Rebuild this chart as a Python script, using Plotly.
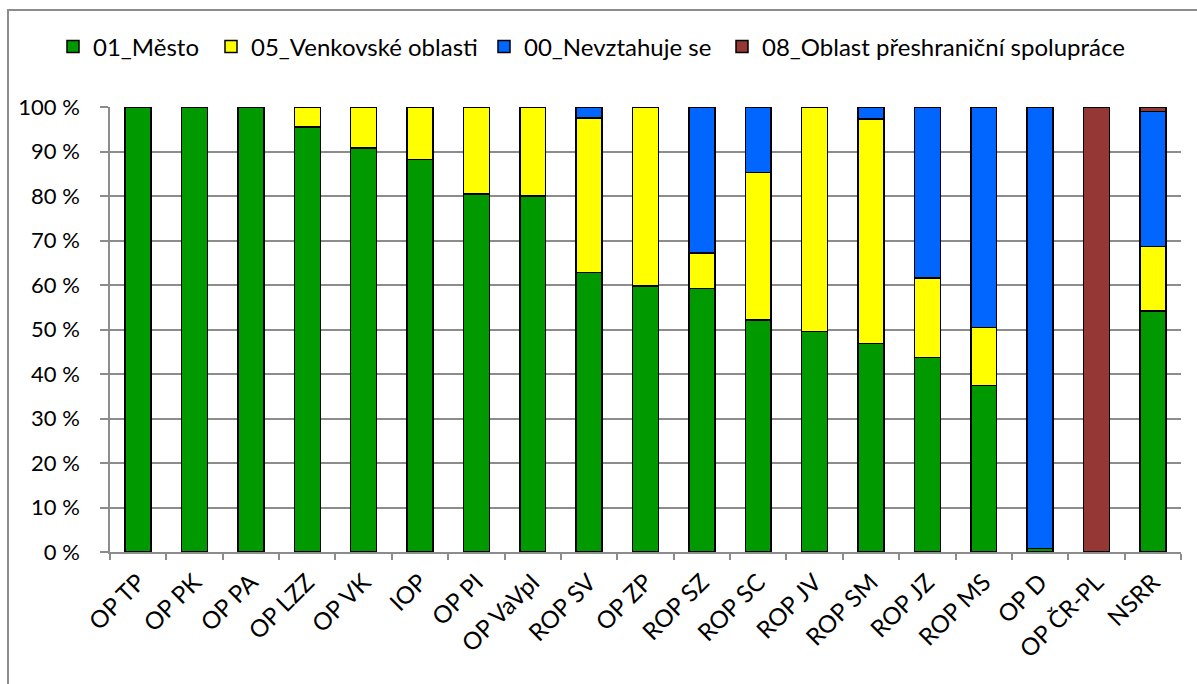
import plotly.graph_objects as go

categories = ["OP TP", "OP PK", "OP PA", "OP LZZ", "OP VK", "IOP", "OP PI", "OP VaVpI",
              "ROP SV", "OP ZP", "ROP SZ", "ROP SC", "ROP JV", "ROP SM", "ROP JZ",
              "ROP MS", "OP D", "OP ČR-PL", "NSRR"]

mesto = [100, 100, 100, 95.5, 90.8, 88.2, 80.4, 80.0, 62.8, 59.8, 59.2, 52.1, 49.6, 46.8, 43.7, 37.4, 0.8, None, 54.2]
venkov = [None, None, None, 4.5, 9.2, 11.8, 19.6, 20.0, 34.7, 40.2, 8.0, 33.2, 50.4, 50.5, 17.9, 13.0, None, None, 14.4]
nevztahuje = [None, None, None, None, None, None, None, None, 2.5, None, 32.8, 14.7, None, 2.7, 38.4, 49.6, 99.2, None, 30.4]
preshranicni = [None] * 17 + [100, 1.0]

series = [
    ("01_Město", mesto, "#009900", "legend"),
    ("05_Venkovské oblasti", venkov, "#FFFF00", "legend2"),
    ("00_Nevztahuje se", nevztahuje, "#0066FF", "legend3"),
    ("08_Oblast přeshraniční spolupráce", preshranicni, "#953735", "legend4"),
]

FONT = "Lato"

fig = go.Figure()
for name, vals, color, lg in series:
    fig.add_trace(go.Bar(
        x=categories, y=vals, name=name, legend=lg, showlegend=True,
        marker=dict(color=color, line=dict(color="#000000", width=1.5)),
    ))

W, H = 1197, 684
L, R, T, B = 110, 16, 107, 132
pw = W - L - R
ph = H - T - B

def px2paper_x(px):
    return (px - L) / pw

def py2paper_y(py):
    return (H - B - py) / ph

leg_common = dict(orientation="h", yanchor="middle", xanchor="left",
                  y=py2paper_y(47), font=dict(family=FONT, size=24, color="#000000"),
                  bgcolor="rgba(0,0,0,0)", borderwidth=0)

fig.update_layout(
    width=W, height=H,
    margin=dict(l=L, r=R, t=T, b=B),
    barmode="stack",
    bargap=0.54,
    showlegend=True,
    plot_bgcolor="#FFFFFF",
    paper_bgcolor="#FFFFFF",
    font=dict(family=FONT, size=22, color="#000000"),
    legend=dict(x=px2paper_x(53), **leg_common),
    legend2=dict(x=px2paper_x(211), **leg_common),
    legend3=dict(x=px2paper_x(484), **leg_common),
    legend4=dict(x=px2paper_x(722), **leg_common),
    xaxis=dict(
        type="category", tickangle=-45,
        showline=True, linecolor="#8c8c8c", linewidth=1.5,
        ticks="outside", ticklen=6, tickcolor="#8c8c8c", tickwidth=1.5,
        tickson="boundaries", showgrid=False,
        ticklabelstandoff=5,
        tickfont=dict(family=FONT, size=24, color="#000000"),
    ),
    yaxis=dict(
        range=[0, 100], dtick=10, ticksuffix=" %",
        showline=True, linecolor="#8c8c8c", linewidth=1.5,
        ticks="outside", ticklen=8, tickcolor="#8c8c8c", tickwidth=1.5,
        showgrid=True, gridcolor="#8c8c8c", gridwidth=1.5,
        zeroline=False,
        ticklabelstandoff=16,
        tickfont=dict(family=FONT, size=22, color="#000000"),
    ),
    shapes=[
        dict(type="rect", xref="paper", yref="paper",
             x0=px2paper_x(8), x1=1.2, y0=-0.6, y1=py2paper_y(10),
             line=dict(color="#8c8c8c", width=2), fillcolor="rgba(0,0,0,0)", layer="below"),
    ],
)

fig.write_html("out.html", config={"displayModeBar": False},
               post_script="document.body.style.margin='0';document.body.style.overflow='hidden';")
